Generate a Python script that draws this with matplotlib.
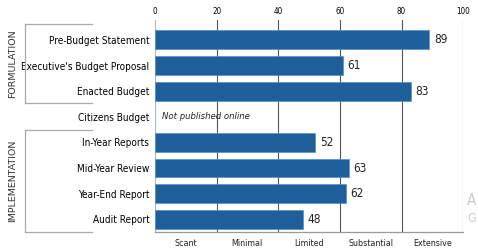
import matplotlib
matplotlib.use('Agg')
import matplotlib.pyplot as plt

categories = ['Pre-Budget Statement', "Executive's Budget Proposal", 'Enacted Budget',
              'Citizens Budget', 'In-Year Reports', 'Mid-Year Review',
              'Year-End Report', 'Audit Report']
scores = [89, 61, 83, None, 52, 63, 62, 48]
top_ticks = [0, 20, 40, 60, 80, 100]
band_labels = ['Scant', 'Minimal', 'Limited', 'Substantial', 'Extensive']

plt.rcParams['font.family'] = ['DejaVu Sans']
plt.rcParams['font.stretch'] = 'condensed'
bar_color = '#1c5f9b'

fig = plt.figure(figsize=(4.78, 2.49), dpi=100)
ax = fig.add_axes([0.324, 0.068, 0.645, 0.852])

ypos = list(range(len(categories)))
for y, v in zip(ypos, scores):
    if v is None:
        ax.text(2.3, y, 'Not published online', style='italic', fontsize=6.8,
                va='center', ha='left', color='#222222')
        continue
    ax.barh(y, v, height=0.74, color=bar_color, edgecolor='#5b8fc4', linewidth=0.5, zorder=3)
    ax.text(v + 1.5, y, str(v), va='center', ha='left', fontsize=8.5, color='#222222')

ax.set_xlim(0, 100)
ax.set_ylim(7.5, -0.78)
for x in top_ticks[1:]:
    ax.axvline(x, color='#555555', linewidth=0.8, zorder=1)
ax.axvline(0, color='#9ab8d8', linewidth=0.8, zorder=1)

ax.xaxis.tick_top()
ax.set_xticks(top_ticks)
ax.set_xticklabels([str(t) for t in top_ticks], fontsize=5.8)
ax.tick_params(axis='x', length=0, pad=3)
ax.set_yticks(ypos)
ax.set_yticklabels(categories, fontsize=7.2)
ax.tick_params(axis='y', length=0, pad=4)
for s in ['top', 'right', 'left']:
    ax.spines[s].set_visible(False)
ax.spines['bottom'].set_color('#999999')
ax.spines['bottom'].set_linewidth(0.9)

for i, lab in enumerate(band_labels):
    ax.text(10 + 20 * i, -0.052, lab, transform=ax.get_xaxis_transform(),
            ha='center', va='center', fontsize=6.4, color='#222222')

# brackets on the left
bc = '#aaaaaa'
def bracket(y0, y1, label):
    x0, x1 = 25 / 478, 92 / 478
    fig.add_artist(plt.Line2D([x0, x0], [y0, y1], color=bc, lw=0.9))
    fig.add_artist(plt.Line2D([x0, x1], [y0, y0], color=bc, lw=0.9))
    fig.add_artist(plt.Line2D([x0, x1], [y1, y1], color=bc, lw=0.9))
    fig.text(13 / 478, (y0 + y1) / 2, label, rotation=90, ha='center', va='center',
             fontsize=6.8, fontstretch='normal', color='#333333')

bracket(1 - 103 / 249, 1 - 24 / 249, 'FORMULATION')
bracket(1 - 232 / 249, 1 - 130 / 249, 'IMPLEMENTATION')

# faint cut-off text at right edge
fig.text(467 / 478, 1 - 200 / 249, 'A', fontsize=11, color='#cccccc', va='center', ha='left')
fig.text(467 / 478, 1 - 218 / 249, 'G', fontsize=9, color='#cccccc', va='center', ha='left')

fig.savefig('out.png', dpi=100)
